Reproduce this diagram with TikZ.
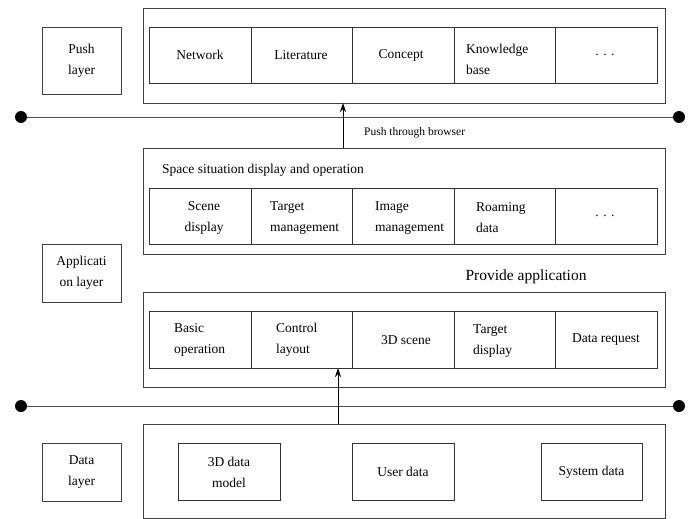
\documentclass[tikz,border=0pt]{standalone}
\usepackage{fontspec}
\setmainfont{Liberation Serif}
\usetikzlibrary{arrows.meta}
\begin{document}
\begin{tikzpicture}[x=1pt,y=-1pt,
  frame/.style={draw=black!75,line width=0.9pt},
  cellbox/.style={draw=black!80,line width=0.9pt},
  lbl/.style={font=\fontsize{13.5}{21}\selectfont,inner sep=0pt,align=left},
  lblc/.style={font=\fontsize{13.5}{21}\selectfont,inner sep=0pt,align=center},
  dotnode/.style={circle,fill=black,inner sep=0pt,minimum width=10pt,minimum height=12pt},
  busline/.style={draw=black!70,line width=1pt},
  arr/.style={draw=black,line width=1pt,-{Stealth[length=9pt,width=6pt]}}]
\useasboundingbox (0,0) rectangle (688,519);
% layer boxes
\node[frame,minimum width=79pt,minimum height=67pt,lblc] (pushl) at (81.5,60.5) {Push\\layer};
\node[frame,minimum width=79pt,minimum height=58pt,lblc] (appl) at (81.5,273) {Applicati\\on layer};
\node[frame,minimum width=79pt,minimum height=58pt,lblc] (datal) at (81.5,472) {Data\\layer};
% outer boxes
\draw[frame] (143,8) rectangle (665,103);
\draw[frame] (143,148) rectangle (665,254);
\draw[frame] (143,292) rectangle (665,387);
\draw[frame] (143,424) rectangle (665,518);
% push row
\draw[cellbox] (149,27) rectangle (657,83);
\foreach \x in {251,352,454,555} \draw[cellbox] (\x,27) -- (\x,83);
\node[lblc] (n1) at (200,55) {Network};
\node[lblc] (n2) at (301,55) {Literature};
\node[lblc] (n3) at (401,55) {Concept};
\node[lbl,anchor=west] (n4) at (466,59) {Knowledge\\base};
\node[lblc] (n5) at (605,55) {. . .};
% middle
\node[lbl,anchor=west] (title) at (162,170) {Space situation display and operation};
\draw[cellbox] (149,188) rectangle (657,244);
\foreach \x in {251,352,454,555} \draw[cellbox] (\x,188) -- (\x,244);
\node[lblc] (m1) at (204,218) {Scene\\display};
\node[lbl,anchor=west] (m2) at (270,218) {Target\\management};
\node[lbl,anchor=west] (m3) at (375,218) {Image\\management};
\node[lbl,anchor=west] (m4) at (476,218) {Roaming\\data};
\node[lblc] (m5) at (605,216) {. . .};
\node[font=\fontsize{15.5}{18}\selectfont,inner sep=0pt] (prov) at (526,277) {Provide application};
% lower app row
\draw[cellbox] (149,311) rectangle (657,368);
\foreach \x in {251,352,454,555} \draw[cellbox] (\x,311) -- (\x,368);
\node[lbl,anchor=west] (b1) at (174,340) {Basic\\operation};
\node[lbl,anchor=west] (b2) at (276,340) {Control\\layout};
\node[lblc] (b3) at (406,340) {3D scene};
\node[lbl,anchor=west] (b4) at (473,341) {Target\\display};
\node[lblc] (b5) at (606,340) {Data request};
% data boxes
\node[cellbox,minimum width=102pt,minimum height=57pt,lblc] (d1) at (229,472) {3D data\\model};
\node[cellbox,minimum width=102pt,minimum height=57pt,lblc] (d2) at (403,472) {User data};
\node[cellbox,minimum width=101pt,minimum height=57pt,lblc] (d3) at (591.5,472) {System data};
% buses
\node[dotnode] (dl1) at (21,117) {};
\node[dotnode] (dr1) at (679,117) {};
\draw[busline] (dl1) -- (dr1);
\node[dotnode] (dl2) at (21,406) {};
\node[dotnode] (dr2) at (679,406) {};
\draw[busline] (dl2) -- (dr2);
% arrows
\coordinate (a1s) at (343,148);
\coordinate (a1e) at (343,103);
\draw[arr] (a1s) -- (a1e);
\node[font=\fontsize{11.5}{14}\selectfont,inner sep=0pt,anchor=west] (pb) at (364,133) {Push through browser};
\coordinate (a2s) at (338,424);
\coordinate (a2e) at (338,368);
\draw[arr] (a2s) -- (a2e);
\end{tikzpicture}
\end{document}
